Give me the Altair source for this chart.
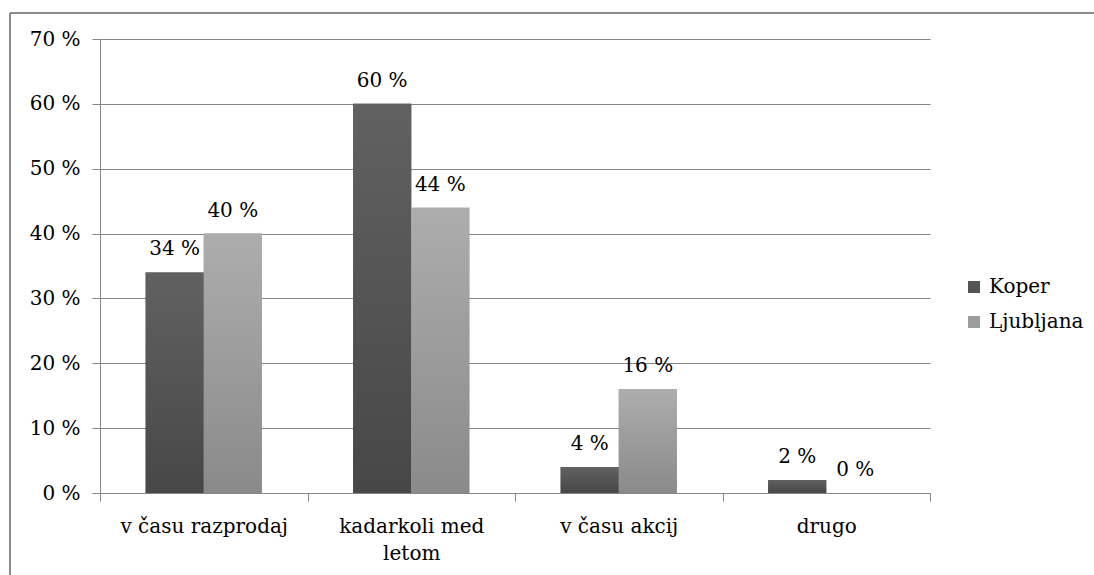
import altair as alt
import pandas as pd

# Survey answers: when do shoppers buy (share of respondents, %)
categories = ["v času razprodaj", "kadarkoli med letom", "v času akcij", "drugo"]
series = ["Koper", "Ljubljana"]
koper = [34, 60, 4, 2]
ljubljana = [40, 44, 16, 0]
y_ticks = [0, 10, 20, 30, 40, 50, 60, 70]

rows = []
for i, cat in enumerate(categories):
    rows.append({"cat": cat, "series": "Koper", "value": koper[i]})
    rows.append({"cat": cat, "series": "Ljubljana", "value": ljubljana[i]})
df = pd.DataFrame(rows)

FONT = "DejaVu Serif"
GRID = "#868686"
FS = 20

grad_dark = {
    "gradient": "linear", "x1": 0, "y1": 0, "x2": 0, "y2": 1,
    "stops": [{"offset": 0, "color": "#616161"}, {"offset": 1, "color": "#474747"}],
}
grad_light = {
    "gradient": "linear", "x1": 0, "y1": 0, "x2": 0, "y2": 1,
    "stops": [{"offset": 0, "color": "#adadad"}, {"offset": 1, "color": "#8a8a8a"}],
}

x_enc = alt.X(
    "cat:N",
    sort=categories,
    scale=alt.Scale(paddingInner=0, paddingOuter=0),
    axis=alt.Axis(
        title=None,
        labelAngle=0,
        tickBand="extent",
        tickSize=8,
        tickColor=GRID,
        domainColor=GRID,
        grid=False,
        labelFont=FONT,
        labelFontSize=FS,
        labelColor="#000000",
        labelPadding=15,
        labelLineHeight=27,
        labelExpr="datum.label == 'kadarkoli med letom' ? ['kadarkoli med', 'letom'] : datum.label",
    ),
)
xoff_enc = alt.XOffset(
    "series:N", sort=series, scale=alt.Scale(paddingInner=0, paddingOuter=0.786)
)
y_enc = alt.Y(
    "value:Q",
    scale=alt.Scale(domain=[0, 70], nice=False),
    axis=alt.Axis(
        title=None,
        values=y_ticks,
        labelExpr="datum.value + ' %'",
        tickSize=8,
        tickColor=GRID,
        domainColor=GRID,
        gridColor=GRID,
        gridWidth=1,
        labelFont=FONT,
        labelFontSize=FS,
        labelColor="#000000",
        labelPadding=12,
    ),
)

base = alt.Chart(df)

# solid bars carry the legend
bars = base.mark_bar().encode(
    x=x_enc,
    xOffset=xoff_enc,
    y=y_enc,
    color=alt.Color(
        "series:N",
        sort=series,
        scale=alt.Scale(domain=series, range=["#545454", "#9c9c9c"]),
        legend=alt.Legend(
            title=None,
            orient="none",
            legendX=864,
            legendY=238,
            symbolType="square",
            symbolSize=144,
            symbolStrokeWidth=0,
            labelFont=FONT,
            labelFontSize=FS,
            labelColor="#000000",
            labelOffset=5,
            rowPadding=15,
        ),
    ),
)

# gradient fill drawn over the solid bars
shaded = base.mark_bar().encode(
    x=x_enc,
    xOffset=xoff_enc,
    y=y_enc,
    fill=alt.condition(alt.datum.series == "Koper", alt.value(grad_dark), alt.value(grad_light)),
)

labels = base.transform_calculate(label="datum.value + ' %'").mark_text(
    font=FONT, fontSize=FS, color="#000000", baseline="alphabetic", dy=-17
).encode(x=x_enc, xOffset=xoff_enc, y=y_enc, text="label:N")

# outer frame (top and left edges)
frame_top = alt.Chart(pd.DataFrame({"k": [0]})).mark_rule(color="#8a8a8a", strokeWidth=2).encode(
    x=alt.value(-90), x2=alt.value(1000), y=alt.value(-26)
)
frame_left = alt.Chart(pd.DataFrame({"k": [0]})).mark_rule(color="#8a8a8a", strokeWidth=2).encode(
    x=alt.value(-90), y=alt.value(-26), y2=alt.value(600)
)

chart = (
    alt.layer(bars, shaded, labels, frame_top, frame_left)
    .properties(
        width=830,
        height=454,
        autosize=alt.AutoSizeParams(type="none"),
        padding={"left": 100, "top": 39, "right": 164, "bottom": 82},
        background="#ffffff",
    )
    .configure_view(stroke=None)
)

chart.save("out.html", embed_options={"renderer": "svg", "actions": False})
